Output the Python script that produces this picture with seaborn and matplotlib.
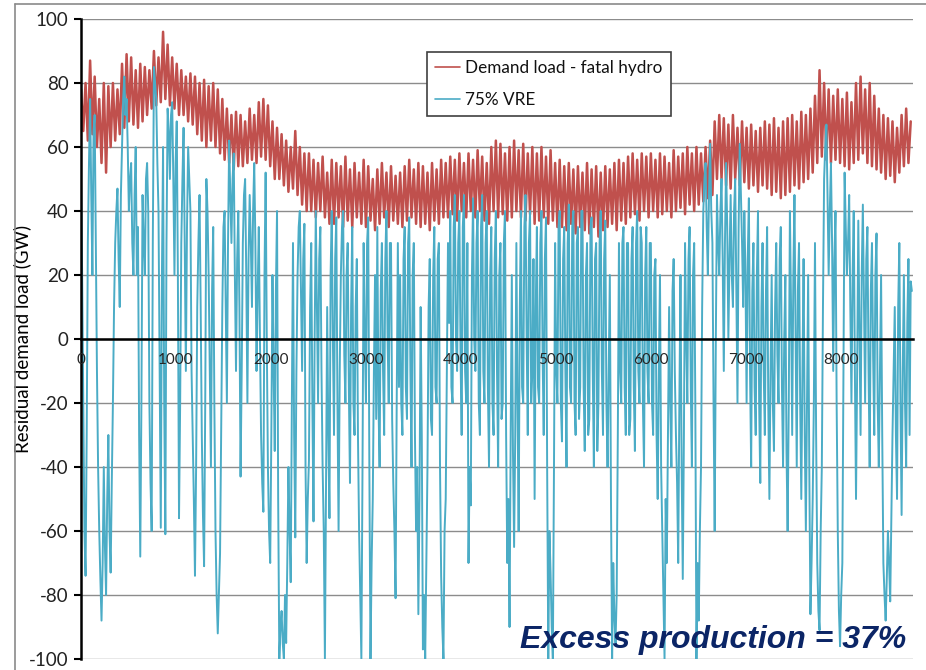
import numpy as np
import pandas as pd
import matplotlib
matplotlib.use("Agg")
import matplotlib.pyplot as plt
import seaborn as sns
from matplotlib.lines import Line2D
from matplotlib.ticker import MultipleLocator

# ---------------- data (GW) ----------------
series_names = ["Demand load - fatal hydro", "75% VRE"]
series_colors = ["#C0504D", "#4BACC6"]

# one sample per day (hour 24*d), alternating daily high / low
demand_minus_hydro = [
    78, 65, 80, 62, 87, 64, 82, 60, 75, 55,
    80, 52, 79, 60, 80, 62, 78, 64, 86, 66,
    89, 68, 88, 67, 84, 66, 86, 68, 85, 70,
    84, 72, 90, 73, 88, 74, 96, 75, 92, 73,
    88, 72, 86, 70, 84, 70, 82, 68, 83, 67,
    82, 64, 80, 62, 81, 60, 79, 62, 80, 60,
    78, 58, 75, 56, 72, 55, 70, 53, 71, 54,
    70, 54, 68, 55, 72, 56, 70, 55, 74, 57,
    75, 56, 73, 54, 68, 50, 66, 50, 64, 48,
    62, 46, 60, 47, 65, 45, 60, 42, 58, 40,
    58, 40, 56, 38, 55, 40, 57, 38, 52, 36,
    56, 36, 55, 38, 54, 35, 57, 37, 53, 35,
    55, 38, 52, 36, 56, 35, 54, 37, 50, 34,
    53, 36, 55, 38, 52, 35, 54, 37, 51, 36,
    52, 35, 54, 37, 56, 38, 53, 36, 55, 35,
    54, 36, 52, 34, 55, 37, 53, 36, 56, 38,
    55, 38, 57, 39, 56, 37, 58, 40, 55, 38,
    58, 40, 56, 38, 59, 40, 57, 37, 55, 36,
    60, 40, 62, 38, 61, 39, 58, 37, 60, 38,
    62, 40, 59, 38, 61, 37, 58, 39, 60, 36,
    58, 37, 60, 38, 57, 36, 59, 37, 55, 35,
    56, 35, 54, 34, 55, 36, 53, 33, 54, 35,
    52, 34, 55, 33, 53, 35, 54, 32, 52, 34,
    54, 35, 53, 36, 55, 34, 56, 37, 55, 36,
    57, 38, 58, 39, 56, 37, 58, 40, 57, 38,
    58, 40, 56, 38, 58, 39, 57, 40, 55, 38,
    59, 40, 57, 41, 58, 39, 60, 42, 58, 40,
    60, 42, 58, 43, 60, 44, 62, 45, 68, 50,
    70, 50, 69, 48, 67, 47, 70, 50, 66, 48,
    68, 49, 66, 47, 67, 48, 65, 46, 66, 48,
    68, 47, 67, 45, 69, 46, 66, 44, 68, 45,
    69, 46, 70, 48, 68, 47, 71, 49, 70, 50,
    72, 52, 76, 55, 84, 57, 80, 56, 78, 55,
    76, 56, 78, 55, 75, 54, 77, 53, 74, 55,
    80, 56, 82, 58, 78, 55, 80, 54, 76, 53,
    72, 52, 70, 50, 69, 51, 68, 49, 66, 52,
    70, 54, 72, 55, 68,
]

# residual load with 75% VRE: night sample (hour 24*d) ...
vre_night = [
    50, -20, -74, 30, 75, 20, 70, -10, -60, -88,
    -40, -80, -30, -73, -20, 30, 47, 10, 60, 82,
    75, 40, 55, 20, 60, 35, -68, 45, 20, 55,
    -20, -60, 85, 75, 40, -59, 60, -61, 72, 50,
    74, 20, 68, -56, 30, 66, -10, 60, 40, -30,
    -74, 10, 45, -30, -71, 50, 20, -40, 35, -60,
    -92, -67, 10, 40, -20, 62, 30, 58, -10, 40,
    -43, 30, 50, -20, 45, 10, 55, -10, 35, -30,
    -54, 52, -40, -70, 20, -35, 40, -100, -85, -100,
    -95, -40, -76, 30, -62, 20, 40, -10, 36, -70,
    -38, 30, -57, 40, -20, 35, -40, -100, 10, -56,
    40, -30, 38, -60, 20, 40, -20, 30, -45, 35,
    -30, 25, -60, -100, 30, -20, 38, -100, -50, 20,
    35, -40, 30, -30, 40, -20, 30, -45, -81, 30,
    20, -30, 35, -25, 38, -40, 30, -60, -86, 10,
    -97, -100, -40, 25, -30, 35, -20, 30, -74, -100,
    -50, 30, 40, -20, 45, -10, 40, -30, 45, -20,
    -70, -52, 44, -10, 40, -30, 45, -20, 40, -40,
    35, -30, 40, -40, 30, -20, 40, -70, -90, 20,
    -65, 30, -60, 40, -20, 45, -30, 40, -10, -50,
    35, -20, 40, -30, 38, -100, -73, -100, 30, -20,
    40, -32, 35, -40, 42, -20, 40, -30, 35, -15,
    40, -35, 30, -25, 38, -40, 30, -20, 40, -30,
    37, -40, 20, -100, -87, -80, 30, -20, 35, -30,
    30, -25, 35, -35, 40, -20, 30, -40, 35, -20,
    30, -30, 25, -50, 20, -60, -100, -70, 10, -40,
    25, -30, -70, 20, -75, 30, -20, 35, -40, 30,
    -100, -88, -40, 40, 55, 20, 61, 30, -60, 45,
    20, 50, -10, 55, 0, 45, 10, 50, -20, 61,
    30, 40, -20, 44, -40, 30, -30, 40, -45, 30,
    -30, 35, -50, 20, -35, 30, -20, 35, -40, 20,
    -60, 40, -30, 45, -40, 30, -50, 25, -60, 20,
    -86, -50, 30, -70, -91, -40, 50, 67, 20, 55,
    -10, 40, -60, -96, -70, 52, 20, 45, -20, 40,
    -50, 37, -30, 42, -20, 35, -40, 30, -30, 33,
    -40, 20, -70, -88, -60, -82, -30, 10, -50, 30,
    -55, 20, -40, 25, 18,
]

# ... and midday sample (hour 24*d + 12)
vre_noon = [
    20, -60, -30, 55, 45, 65, 30, -40, -75, -70,
    -65, -50, -60, -45, 10, 40, 25, 45, 75, 70,
    60, 50, 30, 45, 20, -30, -20, 30, 50, 40,
    -45, 30, 80, 55, -10, 20, -20, 30, 65, 70,
    50, 55, 20, -20, 50, 30, 35, 50, -10, -50,
    -40, 30, 10, -55, -20, 40, -10, 15, -20, -80,
    -80, -30, 35, 10, 30, 45, 50, 20, 25, 10,
    -10, 45, 20, 25, 30, 40, 30, 15, 0, -45,
    20, 0, -60, -30, -10, 15, -50, -90, -95, -80,
    -70, -60, -20, -30, -10, 35, 15, 25, -40, -50,
    10, -20, 0, 10, 25, -10, -60, -45, -30, 20,
    0, 25, -20, -10, 35, -5, 20, -15, 10, -20,
    10, -30, -80, -40, 0, 30, -40, -70, -10, -25,
    -20, 15, -10, 25, 0, 30, -25, -60, -20, -15,
    -20, 25, -15, 30, -10, 20, -30, -40, -50, -30,
    -80, -70, 10, -25, 20, -15, 25, -40, -90, -60,
    -10, 5, -15, 35, 0, 30, -5, 35, -10, 30,
    -40, 20, 0, 30, -20, 35, -10, 30, -15, 20,
    -20, 25, -10, 20, -25, 30, -30, -50, -30, -35,
    -30, -20, 10, -15, 35, 0, 30, -20, 25, 10,
    -15, 30, -5, 25, -40, -60, -90, -40, -10, 35,
    -20, 25, -10, 30, -15, 35, -20, 30, -25, 40,
    -15, 20, -30, 35, -10, 25, -35, 30, -10, 25,
    -20, -10, -50, -70, -95, -30, -10, 30, -15, 30,
    -30, 25, -15, 30, -10, 35, -20, 20, -10, 30,
    -20, 20, -30, -10, -40, -80, -50, -30, -20, 15,
    -10, -45, -20, -40, -30, 0, 25, -15, 20, -20,
    -70, -60, 10, 50, 35, 45, 40, -20, 0, 30,
    40, 25, 30, 35, 25, 20, 40, 15, 35, 45,
    10, 20, 25, -10, 15, -15, 20, -20, 10, -10,
    15, -20, -10, -20, 10, -5, 25, -15, 0, -35,
    -20, 10, 20, 0, 15, -20, -10, -30, -20, -40,
    -70, -20, -30, -85, -60, 10, 60, 45, 40, 30,
    25, -20, -85, -80, -10, 35, 30, 10, 20, -10,
    -10, 5, 20, 10, 25, -10, 15, -5, 20, -20,
    -10, -30, -80, -75, -70, -55, -10, -30, 10, -20,
    -10, -20, 5, -30, 15,
]

x_ticks_labeled = [0, 1000, 2000, 3000, 4000, 5000, 6000, 7000, 8000]
y_ticks = [-100, -80, -60, -40, -20, 0, 20, 40, 60, 80, 100]
annotation = "Excess production = 37%"
y_label = "Residual demand load (GW)"

day = np.arange(len(demand_minus_hydro))
df = pd.concat([
    pd.DataFrame({"hour": day * 24, "gw": demand_minus_hydro, "series": series_names[0]}),
    pd.DataFrame({"hour": day * 24, "gw": vre_night, "series": series_names[1]}),
    pd.DataFrame({"hour": day * 24 + 12, "gw": vre_noon, "series": series_names[1]}),
], ignore_index=True)

# ---------------- figure ----------------
sns.set_theme(style="white")
plt.rcParams["font.family"] = ["Lato", "DejaVu Sans"]

W, H = 926, 670
fig = plt.figure(figsize=(W / 100, H / 100), dpi=100)
L, R, T, B = 81, 913, 19, 659
ax = fig.add_axes([L / W, 1 - B / H, (R - L) / W, (B - T) / H])

# horizontal gridlines behind the data
for yv in y_ticks:
    ax.axhline(yv, color="#8c8c8c", lw=1.0, zorder=0.5)

sns.lineplot(data=df[df.series == series_names[0]], x="hour", y="gw",
             color=series_colors[0], estimator=None, sort=True, lw=1.8,
             ax=ax, zorder=2)
sns.lineplot(data=df[df.series == series_names[1]], x="hour", y="gw",
             color=series_colors[1], estimator=None, sort=True, lw=1.4,
             ax=ax, zorder=2.1)

ax.set_xlim(0, 8760)
ax.set_ylim(-100, 100)
ax.grid(False)
ax.set_axisbelow(False)
ax.set_yticks(y_ticks)
ax.set_yticklabels([str(v) for v in y_ticks], fontsize=13.5, color="#222222")
ax.set_xticks(x_ticks_labeled)
ax.set_xticklabels([str(v) for v in x_ticks_labeled], fontsize=12.5, color="#222222")
ax.xaxis.set_minor_locator(MultipleLocator(200))
ax.tick_params(axis="x", which="both", direction="out", length=4, width=1.2,
               color="black", pad=6)
ax.tick_params(axis="y", which="major", direction="out", length=5, width=1.5,
               color="black", left=True, pad=4)

for s in ["top", "right"]:
    ax.spines[s].set_visible(False)
ax.spines["left"].set_color("black")
ax.spines["left"].set_linewidth(1.8)
ax.spines["bottom"].set_position(("data", 0))
ax.spines["bottom"].set_color("black")
ax.spines["bottom"].set_linewidth(1.8)

ax.set_xlabel("")
ax.set_ylabel(y_label, fontsize=13.5, color="black")
ax.yaxis.set_label_coords((31 - L) / (R - L), 0.5)

handles = [Line2D([0], [0], color=c, lw=1.2) for c in series_colors]
leg = ax.legend(handles, series_names, loc="upper left",
                bbox_to_anchor=((427 - L) / (R - L), 1 - (52 - T) / (B - T)),
                frameon=True, fancybox=False, framealpha=1, edgecolor="#404040",
                fontsize=12.3, handlelength=1.5, handletextpad=0.3,
                borderpad=0.45, labelspacing=0.95, borderaxespad=0)
leg.get_frame().set_linewidth(1.2)
leg.set_zorder(10)
for t in leg.get_texts():
    t.set_color("#111111")

fig.text(906 / W, 1 - 648 / H, annotation, ha="right", va="baseline",
         fontsize=23, fontweight="bold", style="italic", color="#0B2566",
         family=["Liberation Sans", "DejaVu Sans"], zorder=10)

# outer slide frame (top and left edges)
fig.add_artist(Line2D([15 / W, 1], [1 - 4 / H, 1 - 4 / H], color="#8a8a8a", lw=1.2,
                      transform=fig.transFigure))
fig.add_artist(Line2D([15 / W, 15 / W], [0, 1 - 4 / H], color="#8a8a8a", lw=1.2,
                      transform=fig.transFigure))

fig.savefig("out.png", dpi=100)
